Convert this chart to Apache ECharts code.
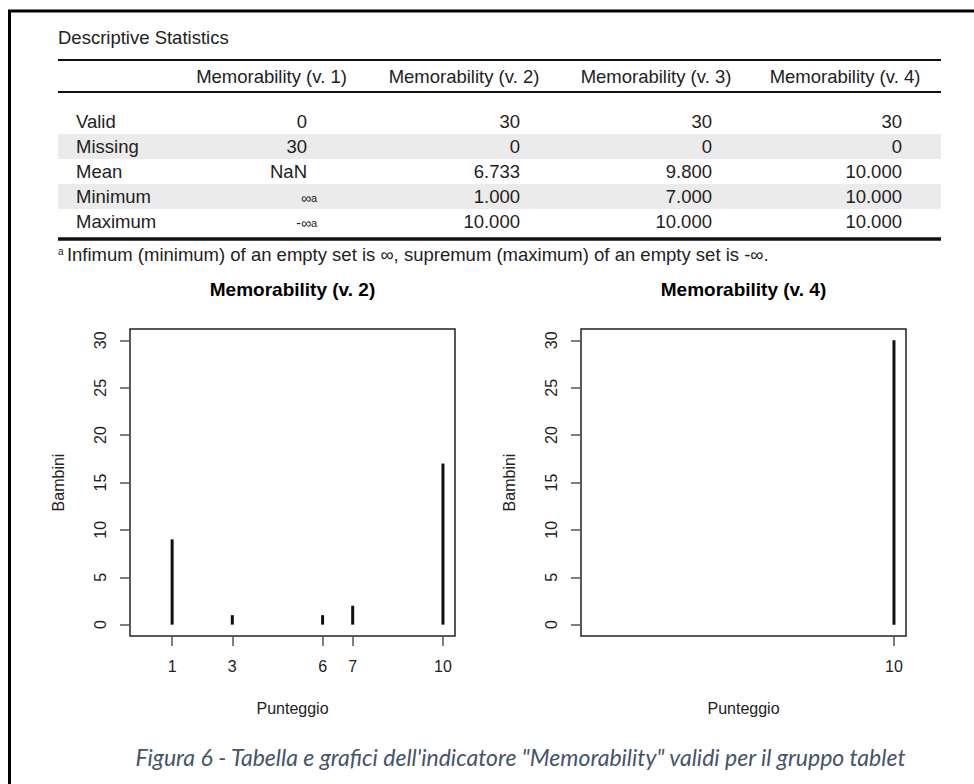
<!DOCTYPE html>
<html>
<head>
<meta charset="utf-8">
<script src="https://cdn.jsdelivr.net/npm/echarts@6/dist/echarts.min.js"></script>
<style>
html,body{margin:0;padding:0;background:#fff;}
#c{width:974px;height:784px;}
</style>
</head>
<body>
<div id="c"></div>
<script>
// ---------- data ----------
const tableTitle = 'Descriptive Statistics';
const tableColumns = ['Memorability (v. 1)', 'Memorability (v. 2)', 'Memorability (v. 3)', 'Memorability (v. 4)'];
const rowLabels = ['Valid', 'Missing', 'Mean', 'Minimum', 'Maximum'];
const colV1 = ['0', '30', 'NaN', '∞', '-∞'];
const colV2 = ['30', '0', '6.733', '1.000', '10.000'];
const colV3 = ['30', '0', '9.800', '7.000', '10.000'];
const colV4 = ['30', '0', '10.000', '10.000', '10.000'];
const footnoteText = 'Infimum (minimum) of an empty set is ∞, supremum (maximum) of an empty set is -∞.';

const plotTitles = ['Memorability (v. 2)', 'Memorability (v. 4)'];
const v2Scores = [1, 3, 6, 7, 10];
const v2Counts = [9, 1, 1, 2, 17];
const v4Scores = [10];
const v4Counts = [30];
const yTicks = [0, 5, 10, 15, 20, 25, 30];
const xName = 'Punteggio';
const yName = 'Bambini';
const caption = 'Figura 6 - Tabella e grafici dell\'indicatore "Memorability" validi per il gruppo tablet';

// ---------- layout ----------
const FONT = '"Liberation Sans", Arial, sans-serif';
const TXT = '#222';
const tableLeft = 58, tableRight = 941;
const headerCenters = [271.5, 464, 656, 845];
const valueRights = [307, 520, 712, 902];
const rowY0 = 109, rowH = 25;
const columns = [colV1, colV2, colV3, colV4];

const graphics = [];
graphics.push({type:'rect', shape:{x:9.5, y:11, width:1000, height:800}, style:{fill:'none', stroke:'#000', lineWidth:3}});
graphics.push({type:'text', x:tableLeft, y:37, style:{text:tableTitle, fontSize:18.5, fontFamily:FONT, fill:TXT, align:'left', verticalAlign:'middle'}});
rowLabels.forEach((r, i) => {
  if (i % 2 === 1) {
    graphics.push({type:'rect', shape:{x:tableLeft, y:rowY0 + i*rowH, width:tableRight-tableLeft, height:rowH}, style:{fill:'#ebebeb'}});
  }
});
graphics.push({type:'line', shape:{x1:tableLeft, y1:60, x2:tableRight, y2:60}, style:{stroke:'#111', lineWidth:2}});
graphics.push({type:'line', shape:{x1:tableLeft, y1:92, x2:tableRight, y2:92}, style:{stroke:'#111', lineWidth:2}});
graphics.push({type:'line', shape:{x1:tableLeft, y1:239, x2:tableRight, y2:239}, style:{stroke:'#111', lineWidth:3.5}});
tableColumns.forEach((h, j) => {
  graphics.push({type:'text', x:headerCenters[j], y:76, style:{text:h, fontSize:18.5, fontFamily:FONT, fill:TXT, align:'center', verticalAlign:'middle'}});
});
rowLabels.forEach((r, i) => {
  const cy = rowY0 + i*rowH + rowH/2;
  graphics.push({type:'text', x:76, y:cy, style:{text:r, fontSize:18.5, fontFamily:FONT, fill:TXT, align:'left', verticalAlign:'middle'}});
  columns.forEach((col, j) => {
    const v = col[i];
    if (v.indexOf('∞') >= 0) {
      graphics.push({type:'text', x:valueRights[j] + 10, y:cy + 1, style:{
        text:'{inf|' + v + '}{sup|a}', align:'right', verticalAlign:'middle', fill:TXT, fontFamily:FONT,
        rich:{inf:{fontSize:14, fontFamily:FONT, fill:TXT}, sup:{fontSize:11, fontFamily:FONT, fill:TXT}}
      }});
    } else {
      graphics.push({type:'text', x:valueRights[j], y:cy, style:{text:v, fontSize:18.5, fontFamily:FONT, fill:TXT, align:'right', verticalAlign:'middle'}});
    }
  });
});
graphics.push({type:'text', x:tableLeft, y:254, style:{
  text:'{sup|a} {t|' + footnoteText + '}', align:'left', verticalAlign:'middle', fontFamily:FONT, fill:TXT,
  rich:{sup:{fontSize:10, fontFamily:FONT, fill:TXT, padding:[0,0,6,0]}, t:{fontSize:18.5, fontFamily:FONT, fill:TXT}}
}});
graphics.push({type:'text', x:292.5, y:289, style:{text:plotTitles[0], fontSize:19, fontWeight:'bold', fontFamily:FONT, fill:'#000', align:'center', verticalAlign:'middle'}});
graphics.push({type:'text', x:743.5, y:289, style:{text:plotTitles[1], fontSize:19, fontWeight:'bold', fontFamily:FONT, fill:'#000', align:'center', verticalAlign:'middle'}});
graphics.push({type:'text', x:520.5, y:757, style:{text:caption, fontSize:23, fontStyle:'italic', fontFamily:'Lato, "Open Sans", sans-serif', fill:'#44546A', align:'center', verticalAlign:'middle'}});

function xAxisFor(idx, ticks) {
  return {
    type:'value', gridIndex:idx, min:-0.4, max:10.4,
    splitLine:{show:false}, axisLine:{show:false, onZero:false},
    axisTick:{show:true, inside:false, length:10, customValues:ticks, lineStyle:{color:'#555', width:1.5}},
    axisLabel:{show:true, customValues:ticks, margin:22, fontSize:16, fontFamily:FONT, color:TXT},
    name:xName, nameLocation:'middle', nameGap:64,
    nameTextStyle:{fontSize:16, fontFamily:FONT, color:TXT}
  };
}
function yAxisFor(idx) {
  return {
    type:'value', gridIndex:idx, min:-1.2, max:31.2,
    splitLine:{show:false}, axisLine:{show:false, onZero:false},
    axisTick:{show:true, inside:false, length:10, customValues:yTicks, lineStyle:{color:'#555', width:1.5}},
    axisLabel:{show:true, customValues:yTicks, rotate:90, margin:22, fontSize:16, fontFamily:FONT, color:TXT},
    name:yName, nameLocation:'middle', nameGap:64, nameRotate:90,
    nameTextStyle:{fontSize:16, fontFamily:FONT, color:TXT}
  };
}

const option = {
  backgroundColor:'#fff',
  animation:false,
  grid:[
    {left:130, top:329, width:325, height:307, show:true, borderColor:'#222', borderWidth:1.5, backgroundColor:'transparent'},
    {left:581, top:329, width:325, height:307, show:true, borderColor:'#222', borderWidth:1.5, backgroundColor:'transparent'}
  ],
  xAxis:[xAxisFor(0, v2Scores), xAxisFor(1, v4Scores)],
  yAxis:[yAxisFor(0), yAxisFor(1)],
  series:[
    {type:'bar', xAxisIndex:0, yAxisIndex:0, barWidth:3, itemStyle:{color:'#111'},
     data:v2Scores.map((s, i) => [s, v2Counts[i]])},
    {type:'bar', xAxisIndex:1, yAxisIndex:1, barWidth:3, itemStyle:{color:'#111'},
     data:v4Scores.map((s, i) => [s, v4Counts[i]])}
  ],
  graphic:graphics
};
const chart = echarts.init(document.getElementById('c'), null, {renderer:'svg'});
chart.setOption(option);
</script>
</body>
</html>
